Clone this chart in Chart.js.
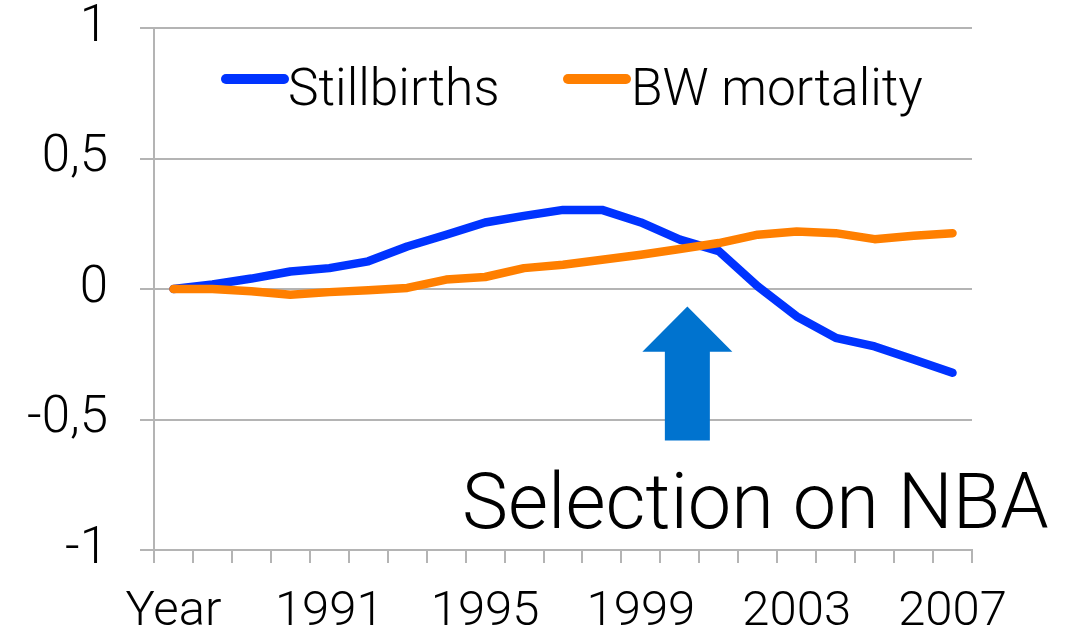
<!DOCTYPE html>
<html>
<head>
<meta charset="utf-8">
<script src="https://cdn.jsdelivr.net/npm/chart.js@4.4.1/dist/chart.umd.min.js"></script>
<style>
  html, body { margin: 0; padding: 0; background: #ffffff; }
  #wrap { width: 1080px; height: 636px; position: relative; }
</style>
</head>
<body>
<div id="wrap"><canvas id="c" width="1080" height="636"></canvas></div>
<script>
// ---- data ----
const categories = ["Year", "1988", "1989", "1990", "1991", "1992", "1993", "1994", "1995", "1996",
  "1997", "1998", "1999", "2000", "2001", "2002", "2003", "2004", "2005", "2006", "2007"];
const stillbirths = [0, 0.017, 0.04, 0.067, 0.08, 0.106, 0.163, 0.208, 0.255, 0.28,
  0.303, 0.303, 0.255, 0.189, 0.145, 0.01, -0.105, -0.187, -0.22, -0.27, -0.321];
const bwMortality = [0, 0, -0.009, -0.022, -0.012, -0.005, 0.004, 0.036, 0.046, 0.08,
  0.093, 0.112, 0.131, 0.153, 0.176, 0.208, 0.22, 0.214, 0.191, 0.204, 0.214];
const seriesNames = ["Stillbirths", "BW mortality"];
const yTickValues = [-1, -0.5, 0, 0.5, 1];
const annotationText = "Selection on NBA";

// ---- style ----
const FONT = "Roboto, 'Liberation Sans', sans-serif";
const BLUE = "#0033ff";
const ORANGE = "#ff7f00";
const ARROW = "#0073cf";
const GRID = "#b4b4b4";

// custom legend + annotation
const overlay = {
  id: "overlay",
  afterDraw(chart) {
    const ctx = chart.ctx;
    const xs = chart.scales.x, ys = chart.scales.y;
    ctx.save();
    // legend
    const items = [
      { ds: chart.data.datasets[0], x0: 226, x1: 284, tx: 288 },
      { ds: chart.data.datasets[1], x0: 568, x1: 626, tx: 631 }
    ];
    ctx.font = "300 51.5px " + FONT;
    ctx.textBaseline = "alphabetic";
    ctx.textAlign = "left";
    items.forEach(it => {
      ctx.strokeStyle = it.ds.borderColor;
      ctx.lineWidth = 10;
      ctx.lineCap = "round";
      ctx.beginPath();
      ctx.moveTo(it.x0, 79);
      ctx.lineTo(it.x1, 79);
      ctx.stroke();
      ctx.fillStyle = "#000";
      ctx.fillText(it.ds.label, it.tx, 105);
    });
    // arrow (anchored to data coordinates)
    const cx = xs.getPixelForValue(13) + 7.5;
    const tipY = ys.getPixelForValue(-0.067);
    const baseY = ys.getPixelForValue(-0.24);
    const botY = ys.getPixelForValue(-0.58);
    ctx.fillStyle = ARROW;
    ctx.beginPath();
    ctx.moveTo(cx, tipY);
    ctx.lineTo(cx + 45, baseY);
    ctx.lineTo(cx + 22.5, baseY);
    ctx.lineTo(cx + 22.5, botY);
    ctx.lineTo(cx - 22.5, botY);
    ctx.lineTo(cx - 22.5, baseY);
    ctx.lineTo(cx - 45, baseY);
    ctx.closePath();
    ctx.fill();
    // annotation text
    ctx.fillStyle = "#000";
    ctx.font = "300 77.5px " + FONT;
    ctx.textAlign = "left";
    ctx.fillText(annotationText, 462, 528);
    ctx.restore();
  }
};

new Chart(document.getElementById("c"), {
  type: "line",
  data: {
    labels: categories,
    datasets: [
      { label: seriesNames[0], data: stillbirths, borderColor: BLUE, backgroundColor: BLUE,
        borderWidth: 8.5, pointRadius: 0, borderCapStyle: "round", borderJoinStyle: "round",
        tension: 0, order: 1 },
      { label: seriesNames[1], data: bwMortality, borderColor: ORANGE, backgroundColor: ORANGE,
        borderWidth: 8.5, pointRadius: 0, borderCapStyle: "round", borderJoinStyle: "round",
        tension: 0, order: 0 }
    ]
  },
  options: {
    responsive: false,
    animation: false,
    devicePixelRatio: 1,
    layout: { padding: { top: 28, right: 108, bottom: 0, left: 0 } },
    plugins: { legend: { display: false }, tooltip: { enabled: false } },
    scales: {
      x: {
        type: "category",
        offset: true,
        grid: { display: true, drawOnChartArea: false, drawTicks: true, tickLength: 13,
                offset: true, color: GRID, lineWidth: 2 },
        border: { display: true, color: GRID, width: 2 },
        ticks: {
          autoSkip: false, maxRotation: 0, minRotation: 0, padding: 20,
          color: "#000", font: { family: FONT, size: 49, weight: 300 },
          callback: (v, i) => (i % 4 === 0 ? categories[i] : "")
        },
        afterFit: (s) => { s.height = 86; s.paddingLeft = 0; s.paddingRight = 0; }
      },
      y: {
        min: -1, max: 1,
        afterBuildTicks: (s) => { s.ticks = yTickValues.map(v => ({ value: v })); },
        grid: { display: true, drawTicks: true, tickLength: 14, color: GRID, lineWidth: 2 },
        border: { display: true, color: GRID, width: 2 },
        ticks: {
          padding: 32, color: "#000", font: { family: FONT, size: 51, weight: 300 },
          callback: (v) => String(v).replace(".", ",")
        },
        afterFit: (s) => { s.width = 154; s.paddingTop = 0; s.paddingBottom = 0; }
      }
    }
  },
  plugins: [overlay]
});
</script>
</body>
</html>
